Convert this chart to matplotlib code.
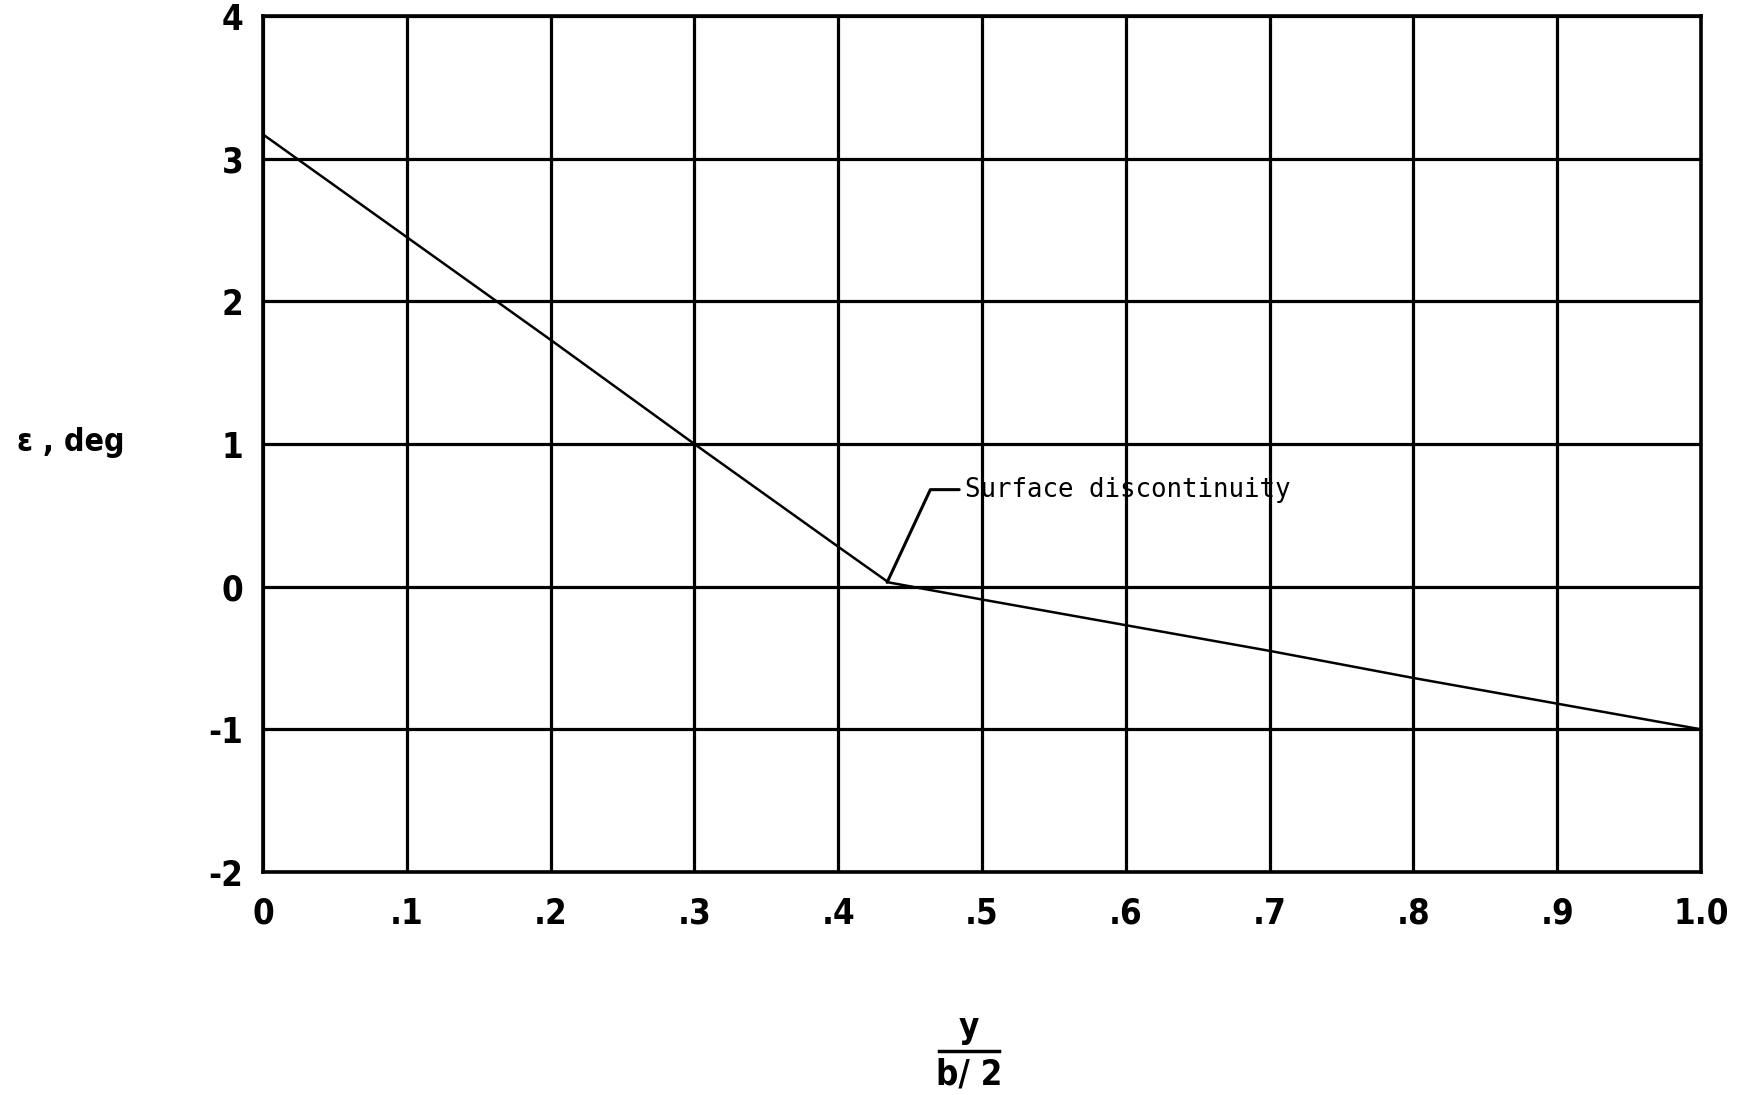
import matplotlib
matplotlib.use("Agg")
import matplotlib.pyplot as plt
from matplotlib.lines import Line2D

# spanwise station y/(b/2) and twist angle epsilon (deg)
span = [0.0, 0.1, 0.2, 0.3, 0.4, 0.435, 0.5, 0.6, 0.7, 0.8, 0.9, 1.0]
eps = [3.17, 2.45, 1.73, 1.0, 0.28, 0.03, -0.09, -0.27, -0.45, -0.64, -0.82, -1.0]

xticks = [0.0, 0.1, 0.2, 0.3, 0.4, 0.5, 0.6, 0.7, 0.8, 0.9, 1.0]
xticklabels = ["0", ".1", ".2", ".3", ".4", ".5", ".6", ".7", ".8", ".9", "1.0"]
yticks = [-2, -1, 0, 1, 2, 3, 4]
yticklabels = ["-2", "-1", "0", "1", "2", "3", "4"]

narrow = dict(family="DejaVu Sans", fontstretch="condensed", fontweight="bold")
mono = ["DejaVu Sans Mono"]

fig = plt.figure(figsize=(17.47, 10.95), dpi=100)
W, H = 1747, 1095
ax = fig.add_axes([263 / W, 1 - 872 / H, (1701 - 263) / W, (872 - 16) / H])

ax.plot(span, eps, color="black", lw=1.8)

ax.set_xlim(0, 1.0)
ax.set_ylim(-2, 4)
ax.set_xticks(xticks)
ax.set_xticklabels(xticklabels, fontsize=25, **narrow)
ax.set_yticks(yticks)
ax.set_yticklabels(yticklabels, fontsize=25, **narrow)
ax.tick_params(length=0, pad=14)
ax.tick_params(axis="x", pad=18)
ax.grid(True, color="black", lw=2.3)
for s in ax.spines.values():
    s.set_linewidth(2.6)

# leader line to the discontinuity
ax.annotate("Surface discontinuity", xy=(0.434, 0.03), xytext=(0.488, 0.68),
            family=mono, fontsize=18.5, va="center", ha="left",
            arrowprops=dict(arrowstyle="-", color="black", lw=2.2,
                            connectionstyle="angle,angleA=0,angleB=65,rad=0",
                            shrinkA=2, shrinkB=0))

fig.text(17 / W, 1 - 442 / H, "ε , deg", fontsize=23,
         ha="left", va="center", **narrow)

# x label as a stacked fraction y / (b/2)
cx = 969 / W
fig.text(cx, 1 - 1028 / H, "y", fontsize=25, ha="center", va="center", **narrow)
fig.add_artist(Line2D([cx - 30 / W, cx + 30 / W], [1 - 1051 / H, 1 - 1051 / H],
                      color="black", lw=2.5))
fig.text(cx, 1 - 1075 / H, "b/ 2", fontsize=25, ha="center", va="center", **narrow)

fig.savefig("out.png", dpi=100, facecolor="white")
